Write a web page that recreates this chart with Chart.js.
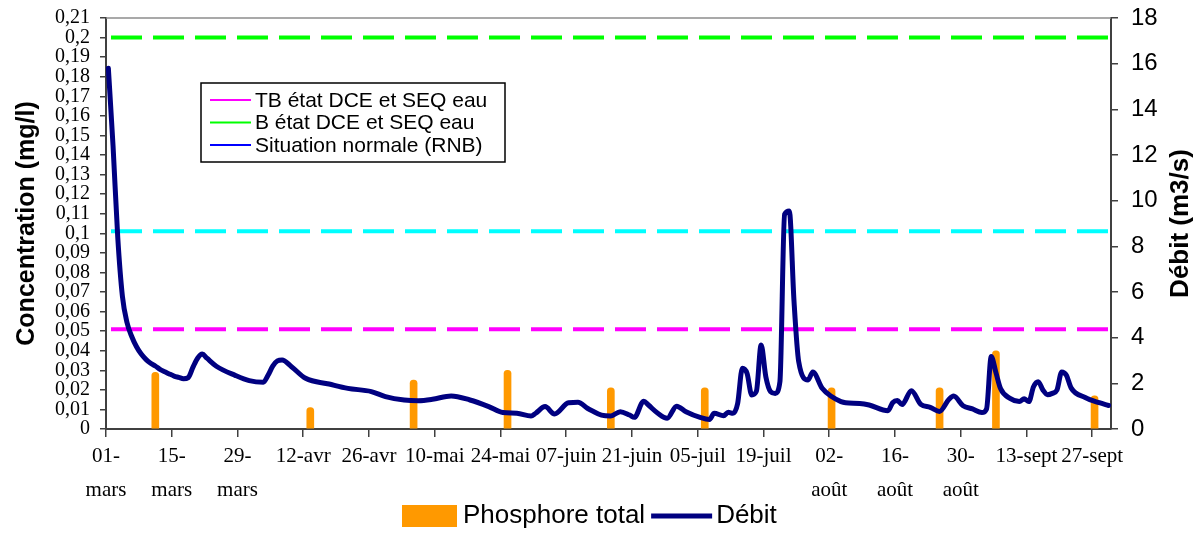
<!DOCTYPE html>
<html>
<head>
<meta charset="utf-8">
<script src="https://cdn.jsdelivr.net/npm/chart.js@4.4.1/dist/chart.umd.min.js"></script>
<style>
  body { margin: 0; background: #fff; }
  #wrap { width: 1200px; height: 534px; }
</style>
</head>
<body>
<div id="wrap"><canvas id="chart"></canvas></div>
<script>
// days counted from 01-mars (day 0)
const tickLabels = [["01-", "mars"], ["15-", "mars"], ["29-", "mars"], "12-avr", "26-avr", "10-mai", "24-mai",
    "07-juin", "21-juin", "05-juil", "19-juil", ["02-", "août"], ["16-", "août"], ["30-", "août"], "13-sept", "27-sept"];

const phosphoreDays = [10, 43, 65, 85, 107, 127, 154, 177, 189, 210];
const phosphoreValues = [0.029, 0.011, 0.025, 0.030, 0.021, 0.021, 0.021, 0.021, 0.040, 0.017];

const debitDays = [0, 1, 2, 3, 4, 5, 6, 7, 8, 9, 10, 11, 12, 13, 14, 15, 16, 17, 18, 19, 20, 21, 23, 27, 30,
    33, 34, 35, 36, 37, 39, 42, 47, 51, 56, 59, 63, 66, 69, 73, 77, 81, 84, 87, 90, 91, 93, 95, 98, 100,
    102, 103, 105, 107, 109, 111, 112, 114, 115, 117, 119, 121, 123, 126, 128, 129, 131, 132, 133, 134,
    135, 136, 137, 138, 139, 140, 141, 142, 143, 144, 145, 146, 147, 149, 150, 152, 154, 156, 157, 160,
    162, 166, 167, 168, 169, 171, 173, 175, 177, 179, 180, 182, 184, 186, 187, 188, 189, 190, 192, 194,
    195, 196, 197, 198, 199, 200, 201, 202, 203, 204, 205, 208, 211, 213];
const debitValues = [15.8, 12.4, 8.4, 5.8, 4.64, 4.04, 3.6, 3.28, 3.05, 2.88, 2.76, 2.61, 2.51, 2.41, 2.32, 2.26,
    2.2, 2.25, 2.7, 3.1, 3.28, 3.1, 2.75, 2.35, 2.12,
    2.05, 2.35, 2.75, 2.98, 3.02, 2.73, 2.22, 1.97, 1.78, 1.64, 1.42, 1.27, 1.24, 1.30, 1.45, 1.27, 0.98,
    0.72, 0.69, 0.57, 0.69, 0.98, 0.66, 1.15, 1.17,
    0.91, 0.80, 0.61, 0.57, 0.76, 0.61, 0.51, 1.22, 1.05, 0.69, 0.47, 1.0, 0.76, 0.51, 0.42, 0.69, 0.58,
    0.73, 0.69, 1.12,
    2.66, 2.44, 1.49, 1.66, 3.68, 2.29, 1.64, 1.56, 2.07, 9.4, 9.55, 5.6, 2.95, 2.15, 2.5, 1.78, 1.42, 1.2,
    1.15, 1.12,
    1.05, 0.8, 1.15, 1.25, 1.07, 1.68, 1.08, 0.95, 0.77, 1.3, 1.44, 1.02, 0.88, 0.72, 0.88, 3.17, 2.47,
    1.76, 1.34, 1.2,
    1.32, 1.2, 1.85, 2.07, 1.71, 1.5, 1.56, 1.71, 2.5, 2.35, 1.8, 1.38, 1.15, 1.03];

const seuilLabels = ["TB état DCE et SEQ eau", "B état DCE et SEQ eau", "Situation normale (RNB)"];
const seuilValues = [0.051, 0.2, 0.101];

const nbDays = 214;
const serif = "'Liberation Serif', 'Times New Roman', serif";
const sans = "'Liberation Sans', Arial, sans-serif";
const axisColor = "#404040";

function seuilLine(value, color) {
    return {
        type: "line",
        data: [{ x: 0, y: value }, { x: nbDays, y: value }],
        borderColor: color,
        borderWidth: 4,
        borderDash: [31, 11],
        borderDashOffset: 37,
        pointRadius: 0,
        yAxisID: "y",
        order: 1,
    };
}

// keep the plot area where the reference has it
function fixWidth(width) {
    return (s) => {
        s.width = width;
        s.paddingTop = 0;
        s.paddingBottom = 0;
    };
}

// legend box inside the plot, top border, right title and bottom legend
const decor = {
    id: "decor",
    afterDraw(chart) {
        const ctx = chart.ctx;
        const area = chart.chartArea;
        ctx.save();

        ctx.strokeStyle = "#8c8c8c";
        ctx.lineWidth = 1.5;
        ctx.beginPath();
        ctx.moveTo(area.left, area.top);
        ctx.lineTo(area.right, area.top);
        ctx.stroke();

        ctx.fillStyle = "#000";
        ctx.font = "bold 26px " + sans;
        ctx.textAlign = "center";
        ctx.textBaseline = "middle";
        ctx.translate(1181, (area.top + area.bottom) / 2);
        ctx.rotate(-Math.PI / 2);
        ctx.fillText("Débit (m3/s)", 0, 0);
        ctx.setTransform(1, 0, 0, 1, 0, 0);

        // inner legend
        ctx.fillStyle = "#fff";
        ctx.fillRect(201, 83, 304, 79);
        ctx.strokeStyle = "#000";
        ctx.lineWidth = 1.5;
        ctx.strokeRect(201, 83, 304, 79);
        const legendColors = ["#ff00ff", "#00ff00", "#0000ff"];
        ctx.font = "21px " + sans;
        ctx.textAlign = "left";
        seuilLabels.forEach((label, i) => {
            const y = 100 + i * 22.5;
            ctx.strokeStyle = legendColors[i];
            ctx.lineWidth = 2;
            ctx.beginPath();
            ctx.moveTo(210, y);
            ctx.lineTo(251, y);
            ctx.stroke();
            ctx.fillStyle = "#000";
            ctx.fillText(label, 255, y + 1);
        });

        // bottom legend
        ctx.font = "26px " + sans;
        const y = 516;
        ctx.fillStyle = "#ff9900";
        ctx.fillRect(402, y - 11, 55, 22);
        ctx.fillStyle = "#000";
        ctx.fillText("Phosphore total", 463, y);
        const x2 = 463 + ctx.measureText("Phosphore total").width + 6;
        ctx.strokeStyle = "#000080";
        ctx.lineWidth = 5;
        ctx.beginPath();
        ctx.moveTo(x2, y);
        ctx.lineTo(x2 + 61, y);
        ctx.stroke();
        ctx.fillText("Débit", x2 + 65, y);
        ctx.restore();
    },
};

const ctx = document.getElementById("chart").getContext("2d");

new Chart(ctx, {
    type: "bar",
    data: {
        datasets: [
            {
                type: "line",
                label: "Débit",
                data: debitDays.map((d, i) => ({ x: d + 0.5, y: debitValues[i] })),
                borderColor: "#000080",
                borderWidth: 5,
                cubicInterpolationMode: "monotone",
                borderJoinStyle: "round",
                borderCapStyle: "round",
                pointRadius: 0,
                yAxisID: "y1",
                order: 0,
            },
            seuilLine(seuilValues[1], "#00ff00"),
            seuilLine(seuilValues[2], "#00ffff"),
            seuilLine(seuilValues[0], "#ff00ff"),
            {
                type: "bar",
                label: "Phosphore total",
                data: phosphoreDays.map((d, i) => ({ x: d + 0.5, y: phosphoreValues[i] })),
                backgroundColor: "#ff9900",
                barThickness: 7,
                borderRadius: { topLeft: 4, topRight: 4 },
                borderSkipped: "start",
                yAxisID: "y",
                order: 2,
            },
        ],
    },
    options: {
        responsive: true,
        maintainAspectRatio: false,
        animation: false,
        layout: { padding: { top: 18, left: 0, right: 0, bottom: 0 } },
        plugins: {
            legend: { display: false },
            tooltip: { enabled: false },
        },
        scales: {
            x: {
                type: "linear",
                min: 0,
                max: nbDays,
                offset: false,
                grid: { display: true, drawOnChartArea: false, offset: false, tickLength: 8, color: axisColor, lineWidth: 1.5 },
                border: { display: true, color: axisColor, width: 2 },
                ticks: {
                    stepSize: 14,
                    autoSkip: false,
                    includeBounds: false,
                    maxRotation: 0,
                    padding: 2,
                    color: "#000",
                    font: { family: serif, size: 21, lineHeight: 1.65 },
                    callback: (v) => tickLabels[Math.round(v / 14)],
                },
                afterFit: (s) => { s.height = 105; },
            },
            y: {
                position: "left",
                min: 0,
                max: 0.21,
                grid: { display: true, drawOnChartArea: false, tickLength: 6, color: axisColor, lineWidth: 1.5 },
                border: { display: true, color: axisColor, width: 2 },
                ticks: {
                    stepSize: 0.01,
                    autoSkip: false,
                    padding: 10,
                    color: "#000",
                    font: { family: serif, size: 20, lineHeight: 1 },
                    callback: (v) => String(Math.round(v * 100) / 100).replace(".", ","),
                },
                title: {
                    display: true,
                    text: "Concentration (mg/l)",
                    color: "#000",
                    font: { family: sans, size: 25, weight: "bold" },
                    padding: { top: 12, bottom: 0 },
                },
                afterFit: fixWidth(106),
            },
            y1: {
                position: "right",
                min: 0,
                max: 18,
                grid: { display: true, drawOnChartArea: false, tickLength: 7, color: axisColor, lineWidth: 1.5 },
                border: { display: true, color: axisColor, width: 2 },
                ticks: {
                    stepSize: 2,
                    autoSkip: false,
                    padding: 13,
                    color: "#000",
                    font: { family: sans, size: 24, lineHeight: 1 },
                },
                afterFit: fixWidth(89),
            },
        },
    },
    plugins: [decor],
});
</script>
</body>
</html>
